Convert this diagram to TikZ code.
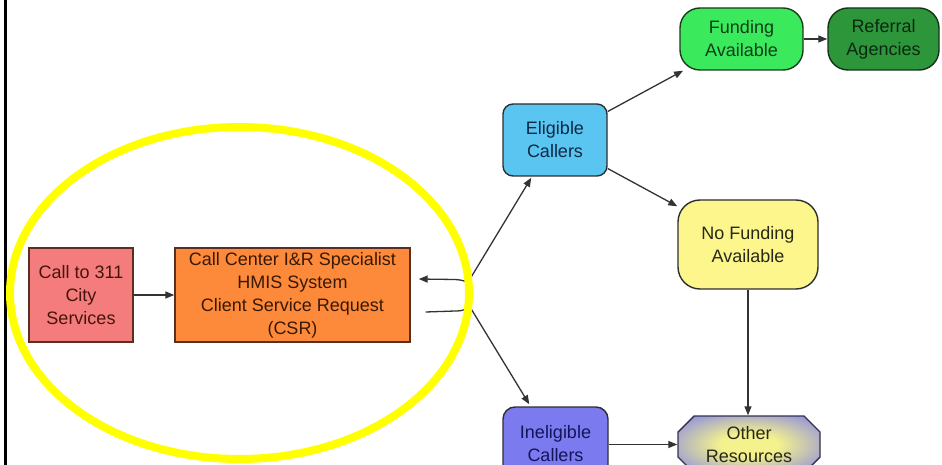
\documentclass[tikz,border=0pt]{standalone}
\usepackage{fontspec}
\setmainfont{Liberation Sans}
\usetikzlibrary{arrows.meta,shapes.misc,calc}

\definecolor{callfill}{HTML}{F47C7C}
\definecolor{csrfill}{HTML}{FD8A3A}
\definecolor{eligfill}{HTML}{5BC5F2}
\definecolor{fundfill}{HTML}{3BEA5C}
\definecolor{reffill}{HTML}{2D963A}
\definecolor{nofundfill}{HTML}{FDF68C}
\definecolor{ineligfill}{HTML}{7B7BEF}
\definecolor{otherin}{HTML}{F4F28C}
\definecolor{otherout}{HTML}{8282EA}
\definecolor{brownline}{HTML}{5A2E22}
\definecolor{darkline}{HTML}{2E2E2E}
\definecolor{linkcol}{HTML}{333333}
\definecolor{hilite}{HTML}{FFFF00}

% soft yellow centre fading to lavender at the edges
\pgfdeclareradialshading{othershade}{\pgfpoint{0bp}{0bp}}{%
  color(0bp)=(otherin); color(10bp)=(otherin); color(36bp)=(otherout); color(50bp)=(otherout)}

\tikzset{
  box/.style={draw=darkline, line width=1.4pt, inner sep=0pt, align=center,
    font=\fontsize{18}{23}\selectfont},
  brownbox/.style={box, draw=brownline, text={rgb,255:red,70;green,20;blue,12}},
  roundbox/.style={box, rounded corners=#1},
  link/.style={draw=linkcol, line width=1.3pt},
  arr/.style={link, -{Triangle[length=9pt,width=7pt]}}
}

\begin{document}
\begin{tikzpicture}[x=1pt,y=-1pt]
\useasboundingbox (0,0) rectangle (942,465);

% page edge rule on the left
\draw[line width=3pt, black] (5,0) -- (5,465);

% intake
\node[brownbox, fill=callfill, minimum width=104pt, minimum height=94pt]
  (call) at (81,295) {Call to 311\\City\\Services};
\node[brownbox, fill=csrfill, minimum width=235pt, minimum height=94pt,
  text={rgb,255:red,55;green,25;blue,5}]
  (csr) at (292.5,295) {Call Center I\&R Specialist\\HMIS System\\Client Service Request\\(CSR)};

% caller classification
\node[roundbox=10pt, fill=eligfill, minimum width=104pt, minimum height=72pt,
  text={rgb,255:red,14;green,40;blue,70}]
  (elig) at (555,140) {Eligible\\Callers};
\node[roundbox=12pt, fill=ineligfill, minimum width=105pt, minimum height=74pt,
  text={rgb,255:red,20;green,20;blue,90}]
  (inelig) at (555.5,444) {Ineligible\\Callers};

% outcomes
\node[roundbox=20pt, fill=fundfill, minimum width=123pt, minimum height=62pt,
  draw={rgb,255:red,25;green,60;blue,30}, text={rgb,255:red,15;green,60;blue,25}]
  (fund) at (741.5,39) {Funding\\Available};
\node[roundbox=20pt, fill=reffill, minimum width=111pt, minimum height=62pt,
  draw={rgb,255:red,20;green,50;blue,25}, text={rgb,255:red,10;green,40;blue,15}]
  (ref) at (883.5,39) {Referral\\Agencies};
\node[roundbox=22pt, fill=nofundfill, minimum width=140pt, minimum height=89pt,
  text={rgb,255:red,40;green,40;blue,25}]
  (nofund) at (748,244.5) {No Funding\\Available};
\node[box, chamfered rectangle, chamfered rectangle xsep=8pt,
  chamfered rectangle ysep=8pt, minimum width=142pt, minimum height=57pt,
  shading=othershade,
  draw={rgb,255:red,50;green,50;blue,80}, text={rgb,255:red,40;green,40;blue,20}]
  (other) at (749,444.5) {Other\\Resources};

% split points beside the specialist box
\coordinate (jup) at (470,279);
\coordinate (jdn) at (470,307);
\coordinate (csrin) at ([xshift=8pt,yshift=16pt]csr.east);
\coordinate (csrout) at ([xshift=15pt,yshift=-17pt]csr.east);
\coordinate (eligtip) at ([xshift=29pt,yshift=-1pt]elig.south west);
\coordinate (inetip) at ([xshift=27pt,yshift=2pt]inelig.north west);

% connectors
\draw[arr] (call.east) -- (csr.west);
\draw[link] (csrout) -- (455,311) .. controls (464,311) and (469,309) .. (470,302) -- (jup);
\draw[arr] (jdn) -- (470,287) .. controls (469,282) and (464,280) .. (455,279.5) -- (csrin);
\draw[arr] (jup) -- (eligtip);
\draw[arr] (jdn) -- (inetip);
\draw[arr] (elig) -- (fund);
\draw[arr] (elig) -- (nofund);
\draw[arr] (fund.east) -- (ref.west);
\draw[arr] (nofund.south) -- (nofund.south |- other.north);
\draw[arr] (inelig.east |- other.west) -- (other.west);

% highlight ring around the intake steps
\draw[hilite, line width=8pt] (239.5,293) ellipse [x radius=229.5pt, y radius=166pt];
\end{tikzpicture}
\end{document}
